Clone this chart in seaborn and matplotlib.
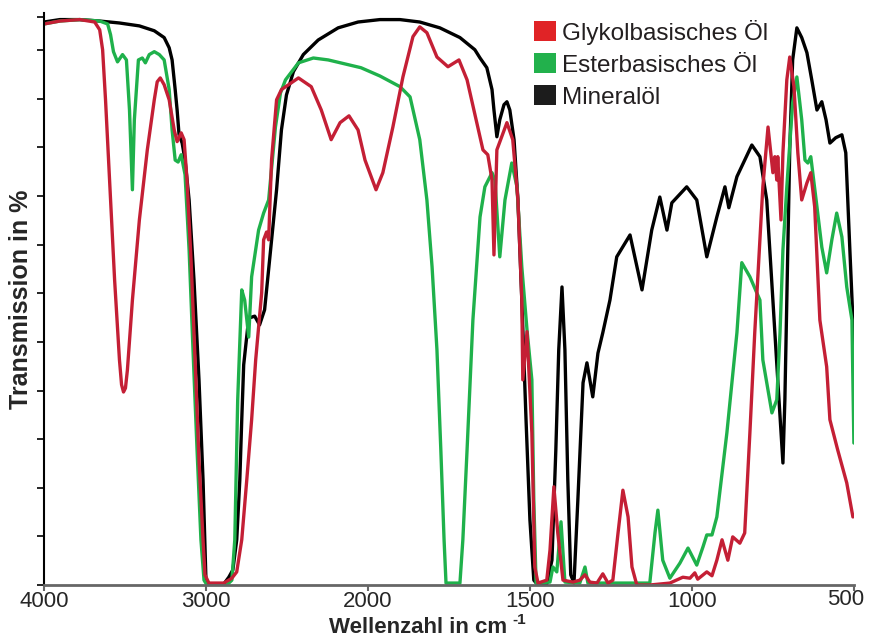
import matplotlib
matplotlib.use("Agg")
import matplotlib.pyplot as plt
import numpy as np
import seaborn as sns
from matplotlib.patches import Patch

# IR spectra, wavenumber (cm^-1) vs. transmission (arbitrary %, tick step = 10)
mineral_wn = [4000, 3902, 3779, 3656, 3534, 3411, 3319, 3258, 3227, 3209, 3190, 3178, 3166, 3147,
              3129, 3104, 3074, 3043, 3018, 3000, 2982, 2890, 2859, 2834, 2810, 2791, 2779, 2767,
              2736, 2699, 2669, 2638, 2601, 2564, 2534, 2503, 2460, 2399, 2307, 2184, 2061, 1963,
              1901, 1840, 1778, 1716, 1670, 1654, 1633, 1617, 1611, 1602, 1593, 1580, 1571, 1562,
              1549, 1537, 1525, 1512, 1500, 1488, 1478, 1448, 1432, 1420, 1411, 1401, 1392, 1383,
              1374, 1364, 1352, 1336, 1324, 1306, 1290, 1275, 1253, 1232, 1191, 1154, 1124, 1099,
              1077, 1062, 1016, 985, 954, 923, 898, 886, 861, 815, 790, 769, 750, 735, 719, 713,
              704, 698, 689, 676, 661, 645, 630, 614, 599, 586, 574, 556, 537, 525, 512, 503, 500]
mineral_t = [115.8, 116.3, 116.3, 116.0, 115.6, 115.0, 114.0, 112.6, 110.5, 108.0, 101.9, 97.7, 92.6, 90.9,
             87.4, 79.2, 62.8, 42.2, 21.6, 1.0, 0.2, 0.2, 1.6, 3.1, 9.3, 21.6, 34.0, 45.3,
             54.9, 55.3, 53.5, 56.6, 68.9, 81.3, 93.6, 100.8, 105.6, 109.1, 112.1, 114.6, 115.8, 116.3,
             116.3, 115.8, 114.6, 112.6, 110.1, 108.4, 106.4, 101.9, 97.7, 92.2, 95.7, 98.8, 99.4, 97.7,
             91.6, 79.2, 58.6, 34.0, 13.4, 1.0, 0.2, 0.2, 5.1, 27.8, 48.4, 61.3, 48.4, 21.6,
             2.1, 0.4, 17.5, 41.6, 45.7, 38.7, 47.7, 51.9, 58.6, 67.5, 72.0, 60.7, 73.0, 79.8,
             73.0, 78.6, 81.9, 79.2, 67.5, 75.7, 81.9, 77.6, 84.0, 90.5, 88.1, 79.2, 58.6, 42.2, 25.1, 38.1,
             68.9, 89.5, 108.0, 114.6, 112.6, 109.5, 103.9, 97.7, 99.4, 95.7, 90.9, 92.0, 92.6, 88.9, 68.3, 54.5, 39.7]

glykol_wn = [4000, 3902, 3779, 3687, 3656, 3638, 3620, 3595, 3564, 3534, 3521, 3509, 3497, 3485, 3454, 3411,
             3362, 3319, 3301, 3282, 3258, 3227, 3196, 3178, 3153, 3135, 3117, 3092, 3067, 3043, 3018, 3006,
             2982, 2890, 2840, 2810, 2779, 2748, 2718, 2693, 2656, 2644, 2626, 2613, 2595, 2564,
             2534, 2429, 2350, 2288, 2227, 2172, 2117, 2061, 2018, 1975, 1954, 1923, 1892, 1861,
             1840, 1818, 1787, 1753, 1719, 1694, 1664, 1645, 1630, 1617, 1611, 1602, 1571, 1553,
             1537, 1525, 1522, 1509, 1494, 1485, 1475, 1448, 1438, 1426, 1414, 1398, 1367, 1346,
             1330, 1315, 1293, 1275, 1259, 1244, 1228, 1213, 1197, 1185, 1170, 1130, 1068, 1028,
             1006, 991, 982, 954, 938, 923, 907, 889, 874, 852, 837, 821, 806, 781, 765, 750,
             744, 738, 735, 725, 719, 707, 698, 685, 673, 661, 645, 633, 621, 605, 584, 574,
             550, 522, 503]
glykol_t = [115.4, 116.0, 116.3, 115.8, 114.2, 110.1, 99.8, 83.3, 62.8, 46.3, 41.2, 39.7, 40.5, 44.2, 58.6, 75.1,
            89.5, 99.8, 103.5, 104.3, 102.9, 99.8, 93.6, 91.2, 93.0, 91.6, 83.3, 66.9, 46.3, 25.7, 9.3, 2.1,
            0.4, 0.4, 1.4, 2.7, 9.3, 21.6, 34.0, 46.3, 60.1, 71.0, 72.6, 71.0, 87.4, 99.8,
            101.9, 104.3, 102.5, 97.7, 91.6, 95.1, 96.5, 93.6, 87.4, 81.3, 84.8, 94.2, 104.5, 112.8,
            114.8, 113.6, 108.6, 106.6, 108.0, 103.9, 95.1, 89.5, 88.5, 83.3, 67.9, 89.5, 95.1, 91.6,
            79.2, 58.6, 42.2, 52.1, 31.3, 3.7, 0.4, 1.0, 7.2, 20.2, 10.7, 1.0, 0.6, 1.0,
            2.1, 0.6, 0.4, 2.3, 0.4, 1.0, 10.7, 19.5, 14.0, 3.7, 0.0, 0.0, 0.4, 1.6,
            1.4, 2.5, 1.2, 2.7, 1.9, 5.1, 9.3, 5.1, 9.9, 8.6, 10.7, 31.3, 51.9, 81.9, 94.2, 84.8,
            88.1, 83.3, 88.1, 75.1, 88.9, 103.9, 108.6, 102.5, 88.9, 79.2, 82.7, 84.8, 77.8, 54.5, 44.9, 34.0,
            27.8, 21.0, 14.0]

ester_wn = [4000, 3902, 3779, 3656, 3607, 3589, 3571, 3546, 3515, 3491, 3472, 3454, 3442, 3417,
            3393, 3374, 3350, 3319, 3288, 3258, 3227, 3209, 3190, 3172, 3153, 3129, 3104, 3080,
            3055, 3031, 3012, 2994, 2871, 2840, 2822, 2804, 2779, 2761, 2736, 2718, 2675, 2644,
            2613, 2571, 2540, 2509, 2429, 2337, 2245, 2043, 1963, 1901, 1870, 1840, 1818, 1802, 1787, 1775,
            1765, 1759, 1716, 1707, 1694, 1676, 1654, 1639, 1617, 1608, 1593, 1577, 1556, 1540,
            1525, 1509, 1494, 1488, 1481, 1438, 1429, 1417, 1404, 1392, 1346, 1330, 1321, 1130,
            1114, 1105, 1090, 1068, 1037, 1012, 985, 966, 954, 938, 923, 892, 861, 846, 821, 790,
            781, 753, 738, 728, 719, 707, 689, 676, 661, 651, 642, 633, 614, 599, 584, 568,
            553, 537, 522, 506, 500]
ester_t = [115.4, 116.0, 116.3, 116.0, 115.4, 113.2, 109.7, 107.6, 109.1, 108.0, 97.7, 81.3, 95.7, 108.0,
           108.4, 107.4, 109.1, 109.7, 109.1, 108.0, 101.9, 93.6, 87.4, 87.0, 88.5, 84.4, 68.9, 48.4,
           27.8, 9.3, 1.0, 0.0, 0.0, 1.0, 9.3, 38.1, 60.7, 58.6, 51.0, 63.4, 73.0, 76.5,
           79.2, 94.2, 101.2, 103.9, 107.4, 108.4, 108.0, 106.4, 104.7, 102.5, 100.4, 91.6, 79.2, 65.4, 48.4, 27.8,
           9.3, 0.4, 0.4, 9.3, 27.8, 54.5, 75.7, 81.9, 84.8, 83.3, 67.5, 79.2, 86.8, 81.9,
           65.4, 52.5, 42.2, 17.5, 0.4, 0.6, 3.7, 2.7, 13.0, 0.6, 0.4, 3.7, 0.4, 0.4,
           10.7, 15.4, 5.1, 1.4, 4.5, 7.6, 4.1, 7.8, 10.3, 10.3, 14.0, 31.3, 51.9, 66.3, 63.4, 58.6,
           46.3, 35.4, 38.1, 51.9, 68.9, 81.9, 99.2, 104.5, 95.7, 87.4, 86.8, 88.1, 77.8, 69.5, 64.2, 71.0,
           76.5, 71.6, 61.3, 54.5, 29.2]

series_names = ["Glykolbasisches Öl", "Esterbasisches Öl", "Mineralöl"]
line_colors = ["#c41f35", "#1fb14b", "#000000"]
patch_colors = ["#e02326", "#22b14c", "#1c1c1c"]
x_ticks = [4000, 3000, 2000, 1500, 1000, 500]


def forward(w):
    # spectrometer style axis: half scale above 2000 cm^-1
    w = np.asarray(w, dtype=float)
    return np.where(w <= 2000, w, 2000 + (w - 2000) / 2)


def inverse(u):
    u = np.asarray(u, dtype=float)
    return np.where(u <= 2000, u, 2000 + (u - 2000) * 2)


sns.set_style("white")
plt.rcParams["font.family"] = ["Liberation Sans", "DejaVu Sans"]

fig = plt.figure(figsize=(8.69, 6.39), dpi=100)
ax = fig.add_axes([0.0506, 0.0845, 0.932, 0.8955])

sns.lineplot(x=mineral_wn, y=mineral_t, sort=False, estimator=None, color=line_colors[2], lw=2.4, ax=ax)
sns.lineplot(x=ester_wn, y=ester_t, sort=False, estimator=None, color=line_colors[1], lw=2.4, ax=ax)
sns.lineplot(x=glykol_wn, y=glykol_t, sort=False, estimator=None, color=line_colors[0], lw=2.4, ax=ax)

ax.set_xscale("function", functions=(forward, inverse))
ax.set_xlim(4000, 500)
ax.set_ylim(0, 117.7)
ax.set_xticks(x_ticks)
# last label is drawn separately, shifted left so it stays on the canvas
ax.set_xticklabels([str(t) for t in x_ticks[:-1]] + [""], fontsize=16)
ax.annotate(str(x_ticks[-1]), xy=(x_ticks[-1], 0), xycoords=("data", "axes fraction"),
            xytext=(-6, -3), textcoords="offset points", ha="center", va="top", fontsize=16)
ax.xaxis.set_minor_locator(matplotlib.ticker.NullLocator())
ax.set_yticks(list(range(0, 111, 10)) + [116.9])
ax.set_yticklabels([])

for side in ["top", "right"]:
    ax.spines[side].set_visible(False)
ax.spines["left"].set_color("black")
ax.spines["left"].set_linewidth(1.5)
ax.spines["bottom"].set_color("#666666")
ax.spines["bottom"].set_linewidth(2)
ax.tick_params(axis="y", direction="out", length=5, width=1.2, color="black", left=True)
ax.tick_params(axis="x", direction="out", length=4, width=1.5, color="#666666", bottom=True, pad=0)

ax.set_ylabel("Transmission in %", fontsize=18, fontweight="bold")
ax.yaxis.set_label_coords(-0.013, 0.5)

# x label with a raised "-1", built from two plain texts
fig.text(0.5834, 0.009, "Wellenzahl in cm", ha="right", va="baseline", fontsize=16, fontweight="bold")
fig.text(0.5895, 0.024, "-1", ha="left", va="baseline", fontsize=11, fontweight="bold")

handles = [Patch(facecolor=c, edgecolor="none") for c in patch_colors]
ax.legend(handles, series_names, loc="upper left", bbox_to_anchor=(0.593, 1.005), frameon=False,
          handlelength=0.9, handleheight=0.9, fontsize=17.5, labelspacing=0.35, handletextpad=0.25,
          borderaxespad=0, labelcolor="#231f20")

fig.savefig("out.png", dpi=100)
